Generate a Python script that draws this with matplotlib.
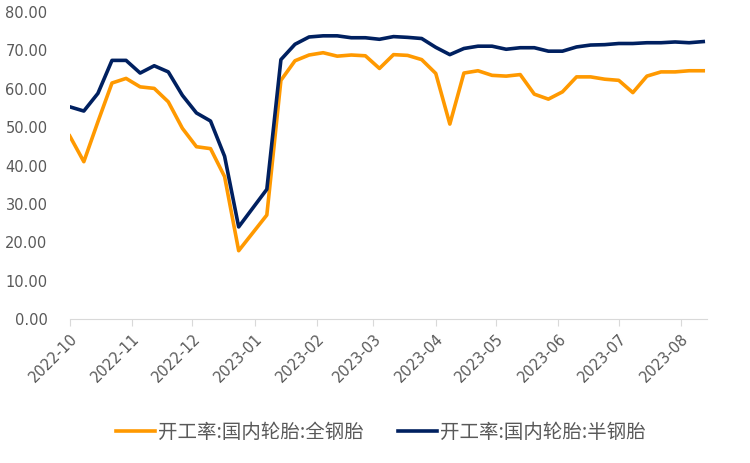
import pandas as pd
import numpy as np
import matplotlib.pyplot as plt
import matplotlib.dates as mdates

plt.rcParams['font.family'] = ['DejaVu Sans']

# weekly dates, the week of 2022-12-29 has no data
dates = pd.date_range('2022-10-01', periods=46, freq='7D').delete(13)

all_steel = [47.7, 41.0, 51.4, 61.5, 62.7, 60.5, 60.1, 56.6, 49.7, 44.9, 44.4, 37.1, 17.8,
             27.1, 62.2, 67.3, 68.8, 69.4, 68.5, 68.8, 68.6, 65.3, 68.9, 68.7, 67.6, 64.0,
             50.8, 64.1, 64.7, 63.5, 63.3, 63.7, 58.6, 57.3, 59.2, 63.1, 63.1, 62.5, 62.2,
             59.0, 63.3, 64.4, 64.4, 64.7, 64.7]
semi_steel = [55.3, 54.2, 58.8, 67.4, 67.4, 64.1, 66.0, 64.4, 58.3, 53.7, 51.6, 42.4, 24.0,
              33.8, 67.6, 71.6, 73.5, 73.8, 73.8, 73.3, 73.3, 72.9, 73.6, 73.4, 73.1, 70.8,
              68.9, 70.5, 71.1, 71.1, 70.3, 70.7, 70.7, 69.8, 69.8, 70.9, 71.4, 71.5, 71.8,
              71.8, 72.0, 72.0, 72.2, 72.0, 72.3]

label1 = '开工率:国内轮胎:全钢胎'
label2 = '开工率:国内轮胎:半钢胎'
month_ticks = pd.date_range('2022-10-01', '2023-08-01', freq='MS')

grey = '#595959'
fig = plt.figure(figsize=(7.5, 4.63), dpi=100)
ax = fig.add_axes([0.093, 0.311, 0.850, 0.663])

ax.plot(dates, all_steel, color='#FF9900', lw=2.6, label=label1)
ax.plot(dates, semi_steel, color='#002060', lw=2.6, label=label2)

ax.set_ylim(0, 80)
ax.set_yticks(np.arange(0, 81, 10))
ax.set_yticklabels(['%.2f' % v for v in np.arange(0, 81, 10)])
ax.set_xlim(dates[0], dates[-1] + pd.Timedelta(days=2))
ax.set_xticks(month_ticks)
ax.xaxis.set_major_formatter(mdates.DateFormatter('%Y-%m'))
for lab in ax.get_xticklabels():
    lab.set_rotation(45)
    lab.set_ha('right')
    lab.set_rotation_mode('anchor')

for s in ['top', 'right', 'left']:
    ax.spines[s].set_visible(False)
ax.spines['bottom'].set_color('#d9d9d9')
ax.tick_params(axis='y', length=0, pad=16, labelsize=10.5, labelcolor=grey)
ax.tick_params(axis='x', length=5, width=0.8, color='#d9d9d9', pad=4,
               labelsize=10.5, labelcolor=grey)

leg = ax.legend(loc='center', bbox_to_anchor=(0.488, -0.37), ncol=2, frameon=False,
                prop={'family': ['Noto Sans CJK SC', 'DejaVu Sans'], 'size': 14},
                handlelength=2.0, handletextpad=0.15, columnspacing=1.8)
for t in leg.get_texts():
    t.set_color(grey)

fig.savefig('out.png', dpi=100)
